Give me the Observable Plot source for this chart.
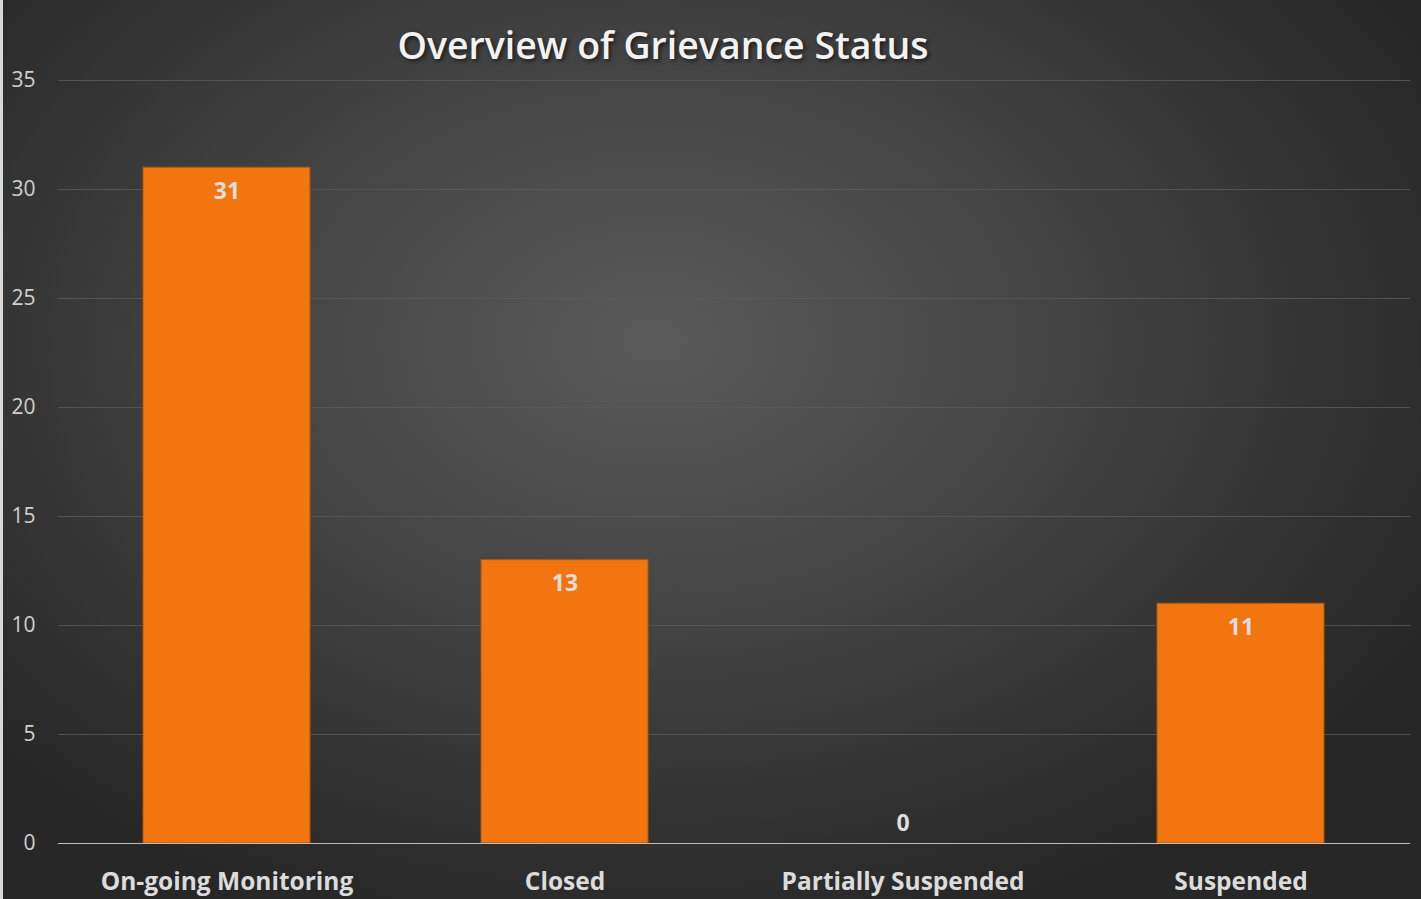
<!DOCTYPE html>
<html>
<head>
<meta charset="utf-8">
<script src="https://cdn.jsdelivr.net/npm/d3@7"></script>
<script src="https://cdn.jsdelivr.net/npm/@observablehq/plot@0.6"></script>
<style>
  html, body { margin: 0; padding: 0; background: #2b2b2b; }
  #wrap {
    position: relative; width: 1421px; height: 899px; overflow: hidden;
    background: radial-gradient(ellipse 62% 68% at 46% 38%, #5a5a5a 0%, #474747 40%, #343434 75%, #272727 100%);
  }
  #edge { position: absolute; left: 0; top: 0; width: 3px; height: 899px; background: #d8d8d8; }
  #title {
    position: absolute; left: 0; top: 19px; width: 1326px; text-align: center;
    font-family: "Open Sans", sans-serif; font-weight: 600; font-size: 37.5px; color: #f2f2f2;
    text-shadow: 2px 2px 4px rgba(0,0,0,0.6);
  }
  #chart { position: absolute; left: 0; top: 0; }
  svg { background: transparent !important; }
</style>
</head>
<body>
<div id="wrap">
  <div id="chart"></div>
  <div id="edge"></div>
  <div id="title">Overview of Grievance Status</div>
</div>
<script>
const categories = ["On-going Monitoring", "Closed", "Partially Suspended", "Suspended"];
const counts = [31, 13, 0, 11];
const yTicks = [0, 5, 10, 15, 20, 25, 30, 35];

const data = categories.map((c, i) => ({category: c, count: counts[i]}));

const chart = Plot.plot({
  width: 1421,
  height: 899,
  marginLeft: 58,
  marginRight: 11,
  marginTop: 80,
  marginBottom: 56,
  style: {background: "transparent", color: "#d9d9d9", fontFamily: "Open Sans, sans-serif"},
  x: {domain: categories, paddingInner: 0.505, paddingOuter: 0.252, label: null},
  y: {domain: [0, 35], ticks: yTicks, label: null},
  marks: [
    Plot.gridY(yTicks.filter(d => d > 0), {stroke: "#5a5a5a", strokeOpacity: 0.8, strokeWidth: 1}),
    Plot.axisY({ticks: yTicks, tickSize: 0, tickPadding: 23, fontSize: 21, fill: "#d0d0d0", label: null}),
    Plot.barY(data, {x: "category", y: "count", fill: "#f27510", stroke: "#a8560f", strokeWidth: 1}),
    Plot.ruleY([0], {stroke: "#bdbdbd", strokeWidth: 1.2}),
    Plot.axisX({tickSize: 0, tickPadding: 29, fontSize: 24.5, fontWeight: "bold", fill: "#dcdcdc", label: null}),
    Plot.text(data.filter(d => d.count > 0), {x: "category", y: "count", text: d => String(d.count), dy: 24, fontSize: 23, fontWeight: "bold", fill: "#dedede"}),
    Plot.text(data.filter(d => d.count === 0), {x: "category", y: "count", text: d => String(d.count), dy: -20, fontSize: 23, fontWeight: "bold", fill: "#dedede"})
  ]
});
document.getElementById("chart").appendChild(chart);
</script>
</body>
</html>
